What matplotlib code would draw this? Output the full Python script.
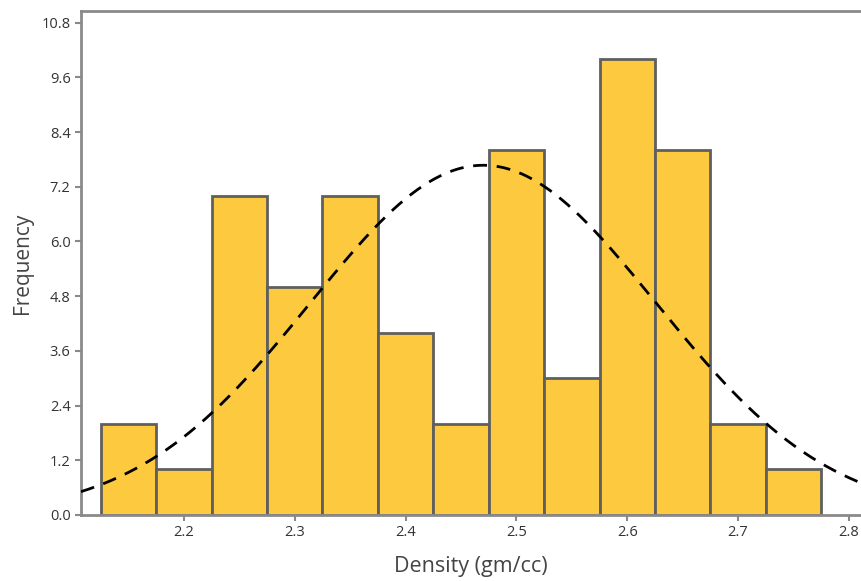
import numpy as np
import matplotlib.pyplot as plt

# histogram bins (gm/cc) and counts
bin_edges = [2.125, 2.175, 2.225, 2.275, 2.325, 2.375, 2.425, 2.475,
             2.525, 2.575, 2.625, 2.675, 2.725, 2.775]
counts = [2, 1, 7, 5, 7, 4, 2, 8, 3, 10, 8, 2, 1]

# fitted normal curve
fit_mean = 2.47
fit_sd = 0.156

x_ticks = [2.2, 2.3, 2.4, 2.5, 2.6, 2.7, 2.8]
y_ticks = [0.0, 1.2, 2.4, 3.6, 4.8, 6.0, 7.2, 8.4, 9.6, 10.8]

plt.rcParams['font.family'] = ['Open Sans', 'DejaVu Sans']

fig = plt.figure(figsize=(8.61, 5.81), dpi=100)
ax = fig.add_axes([0.094, 0.1136, 0.906, 0.867])

widths = np.diff(bin_edges)
ax.bar(bin_edges[:-1], counts, width=widths, align='edge',
       color='#FCC93F', edgecolor='#5f5f5f', linewidth=2, zorder=2)

n_total = sum(counts)
xs = np.linspace(2.107, 2.811, 400)
ys = n_total * widths[0] / (fit_sd * np.sqrt(2 * np.pi)) * np.exp(-0.5 * ((xs - fit_mean) / fit_sd) ** 2)
ax.plot(xs, ys, color='black', linestyle=(0, (5, 3.5)), linewidth=2, zorder=3)

ax.set_xlim(2.107, 2.811)
ax.set_ylim(0, 11.05)
ax.set_xticks(x_ticks)
ax.set_xticklabels([f'{v:.1f}' for v in x_ticks])
ax.set_yticks(y_ticks)
ax.set_yticklabels([f'{v:.1f}' for v in y_ticks])

for side in ['left', 'top', 'bottom']:
    ax.spines[side].set_color('#8a8a8a')
    ax.spines[side].set_linewidth(2)
ax.spines['right'].set_visible(False)
ax.tick_params(colors='#8a8a8a', labelcolor='#333333', labelsize=10.5,
               length=4, width=1.5)

ax.set_xlabel('Density (gm/cc)', fontsize=15.5, color='#444444', labelpad=11)
ax.set_ylabel('Frequency', fontsize=15, color='#444444', labelpad=6)

fig.savefig('out.png', dpi=100)
